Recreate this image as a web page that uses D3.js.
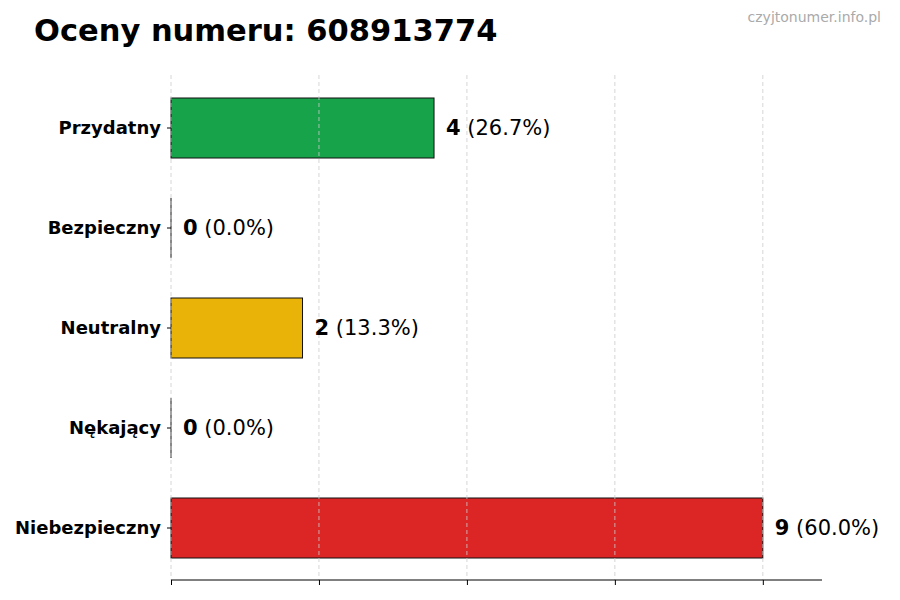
<!DOCTYPE html>
<html>
<head>
<meta charset="utf-8">
<script src="https://cdn.jsdelivr.net/npm/d3@7"></script>
<style>
  body { margin: 0; background: #fff; }
  text { font-family: "DejaVu Sans", sans-serif; }
</style>
</head>
<body>
<div id="chart"></div>
<script>
let categories = ["Przydatny", "Bezpieczny", "Neutralny", "Nękający", "Niebezpieczny"];
let counts = [4, 0, 2, 0, 9];
let percents = ["26.7%", "0.0%", "13.3%", "0.0%", "60.0%"];
let barColors = ["#16a34a", "#16a34a", "#eab308", "#dc2626", "#dc2626"];
let tickValues = [0, 2.25, 4.5, 6.75, 9];

let width = 900, height = 600;
let margin = {top: 75, right: 78, bottom: 20, left: 171};

let svg = d3.select("#chart").append("svg")
    .attr("width", width)
    .attr("height", height);

let x = d3.scaleLinear()
    .domain([0, 9.9])
    .range([margin.left, width - margin.right]);

let y = d3.scaleBand()
    .domain(categories)
    .range([78, 578])
    .paddingInner(0.4)
    .paddingOuter(0.2);

// title + watermark
svg.append("text")
    .attr("x", 34).attr("y", 41)
    .style("font-size", "30.5px")
    .style("font-weight", "700")
    .text("Oceny numeru: 608913774");

svg.append("text")
    .attr("x", 881).attr("y", 22)
    .attr("text-anchor", "end")
    .style("font-size", "14px")
    .attr("fill", "#aaaaaa")
    .text("czyjtonumer.info.pl");

// bars
svg.append("g").selectAll("rect")
  .data(categories)
  .join("rect")
    .attr("x", x(0))
    .attr("y", d => y(d))
    .attr("width", (d, i) => x(counts[i]) - x(0))
    .attr("height", y.bandwidth())
    .attr("fill", (d, i) => barColors[i])
    .attr("stroke", "#111")
    .attr("stroke-width", 1);

// zero-width bars still show their edge
svg.append("g").selectAll("line")
  .data(categories.filter((d, i) => counts[i] === 0))
  .join("line")
    .attr("x1", x(0)).attr("x2", x(0))
    .attr("y1", d => y(d)).attr("y2", d => y(d) + y.bandwidth())
    .attr("stroke", "#111")
    .attr("stroke-width", 1);

// grid over bars
svg.append("g").selectAll("line")
  .data(tickValues)
  .join("line")
    .attr("x1", d => x(d)).attr("x2", d => x(d))
    .attr("y1", 75).attr("y2", 580)
    .attr("stroke", "#cccccc")
    .attr("stroke-width", 0.8)
    .attr("stroke-dasharray", "4,3");

// bottom axis, no labels
let xAxis = svg.append("g")
    .attr("transform", "translate(0,580)")
    .call(d3.axisBottom(x).tickValues(tickValues).tickSize(5).tickFormat(""));
xAxis.select(".domain").attr("d", "M" + x(0) + ",0H" + x(9.9)).attr("stroke", "#000");
xAxis.selectAll(".tick line").attr("stroke", "#000");

// left axis, ticks + labels only
let yAxis = svg.append("g")
    .attr("transform", "translate(" + x(0) + ",0)")
    .call(d3.axisLeft(y).tickSize(4).tickPadding(6));
yAxis.select(".domain").remove();
yAxis.selectAll(".tick line").attr("stroke", "#000");
yAxis.selectAll(".tick text")
    .attr("fill", "#000")
    .style("font-size", "18px")
    .style("font-weight", "700")
    .style("font-family", "DejaVu Sans, sans-serif");

// value labels
let lbl = svg.append("g").selectAll("text")
  .data(categories)
  .join("text")
    .attr("x", (d, i) => x(counts[i]) + 12)
    .attr("y", d => y(d) + y.bandwidth() / 2)
    .attr("dy", "0.35em")
    .style("font-size", "21px");
lbl.append("tspan").style("font-weight", "700").text((d, i) => counts[i]);
lbl.append("tspan").text((d, i) => " (" + percents[i] + ")");
</script>
</body>
</html>
